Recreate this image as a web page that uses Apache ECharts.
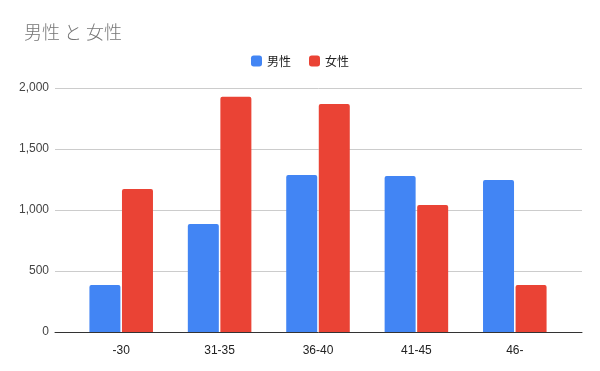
<!DOCTYPE html>
<html><head><meta charset="utf-8">
<script src="https://cdn.jsdelivr.net/npm/echarts@6/dist/echarts.min.js"></script>
<style>html,body{margin:0;padding:0;background:#fff}#c{width:600px;height:371px}</style>
</head><body><div id="c"></div>
<script>
const categories = ['-30', '31-35', '36-40', '41-45', '46-'];
const male = [385, 885, 1287, 1279, 1246];
const female = [1172, 1929, 1869, 1041, 385];
const seriesNames = ['男性', '女性'];
const titleText = '男性 と 女性';
const yMax = 2000, yInterval = 500;

const chart = echarts.init(document.getElementById('c'));
const font = "'Liberation Sans', Arial, sans-serif";
chart.setOption({
  backgroundColor: '#fff',
  animation: false,
  title: { text: titleText, left: 19, top: 18, textStyle: { color: '#757575', fontSize: 18, fontWeight: 300, fontFamily: "'Noto Sans CJK JP', sans-serif" } },
  legend: {
    data: seriesNames, left: 'center', top: 50, itemWidth: 11, itemHeight: 11, itemGap: 18,
    icon: 'roundRect',
    textStyle: { color: '#222', fontSize: 12, fontFamily: "'Noto Sans CJK JP', sans-serif" }
  },
  grid: [
    { left: 55, right: 18, top: 88, bottom: 39 },
    { left: 72, right: 36, top: 88, bottom: 39 }
  ],
  xAxis: [
    { type: 'category', gridIndex: 0, data: [''], axisLine: { lineStyle: { color: '#333' } }, axisTick: { show: false }, axisLabel: { show: false } },
    { type: 'category', gridIndex: 1, data: categories, axisLine: { show: false }, axisTick: { show: false },
      axisLabel: { color: '#222', fontSize: 12, margin: 13, fontFamily: font } }
  ],
  yAxis: [
    { type: 'value', gridIndex: 0, min: 0, max: yMax, interval: yInterval,
      splitLine: { lineStyle: { color: '#ccc' } }, axisLine: { show: false }, axisTick: { show: false },
      axisLabel: { color: '#444', fontSize: 12, margin: 6, fontFamily: font, formatter: v => v.toLocaleString('en-US') } },
    { type: 'value', gridIndex: 1, min: 0, max: yMax, interval: yInterval, show: false, splitLine: { show: false } }
  ],
  series: [
    { name: seriesNames[0], type: 'bar', xAxisIndex: 1, yAxisIndex: 1, data: male, barWidth: 31, barGap: '5%',
      itemStyle: { color: '#4285F4', borderRadius: [2, 2, 0, 0] } },
    { name: seriesNames[1], type: 'bar', xAxisIndex: 1, yAxisIndex: 1, data: female, barWidth: 31, barGap: '5%',
      itemStyle: { color: '#EA4335', borderRadius: [2, 2, 0, 0] } }
  ]
});
</script></body></html>
